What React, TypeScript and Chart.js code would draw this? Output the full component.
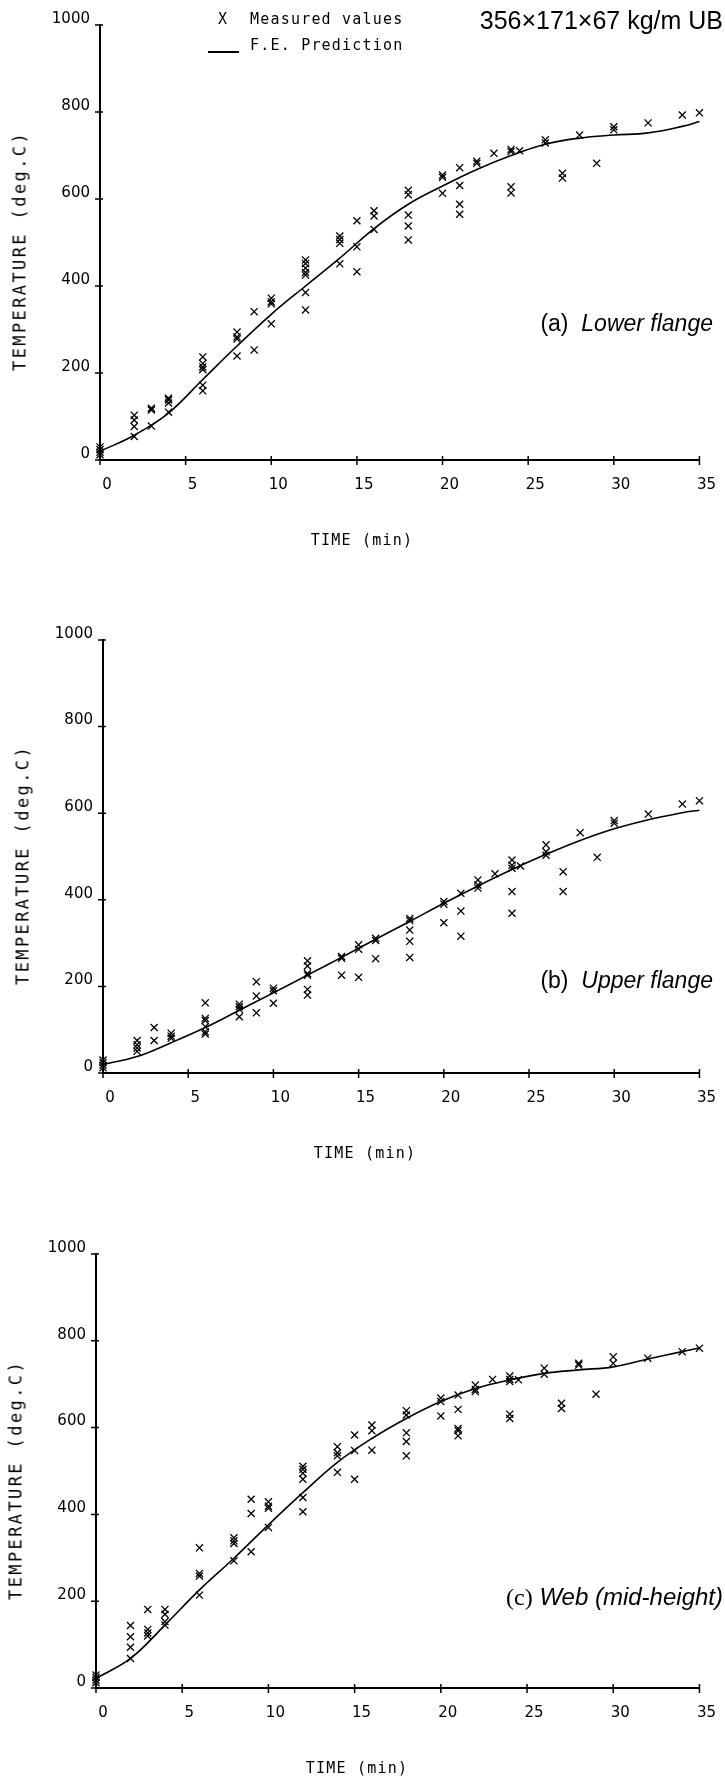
import React, { useEffect, useRef } from "react";
import { Chart, registerables } from "chart.js";

Chart.register(...registerables);

// ---------- data ----------
const X_TICKS = [0, 5, 10, 15, 20, 25, 30, 35];
const Y_TICKS = [0, 200, 400, 600, 800, 1000];

// F.E. prediction curves (time in min, temperature in deg C)
const FE_TIME = [0, 2, 4, 6, 8, 10, 12, 14, 16, 18, 20, 22, 24, 26, 28, 30, 32, 34, 35];
const FE_LOWER = [20, 57, 108, 185, 262, 335, 400, 464, 532, 588, 630, 668, 700, 726, 740, 747, 752, 767, 778];
const FE_UPPER = [20, 38, 70, 105, 145, 185, 226, 267, 309, 350, 392, 432, 470, 505, 537, 564, 585, 601, 607];
const FE_WEB = [22, 68, 145, 226, 299, 376, 450, 520, 575, 621, 660, 690, 710, 725, 733, 740, 758, 775, 784];

// Measured values [time, temperature]
const MEAS_LOWER: [number, number][] = [
  [0, 12], [0, 18], [0, 24], [0, 30],
  [2, 103], [2, 92], [2, 77], [2, 54],
  [3, 119], [3, 115], [3, 78],
  [4, 142], [4, 138], [4, 131], [4, 110],
  [6, 237], [6, 222], [6, 214], [6, 208], [6, 172], [6, 159],
  [8, 294], [8, 283], [8, 278], [8, 239],
  [9, 341], [9, 253],
  [10, 372], [10, 364], [10, 359], [10, 313],
  [12, 460], [12, 452], [12, 441], [12, 431], [12, 425], [12, 385], [12, 345],
  [14, 515], [14, 507], [14, 498], [14, 451],
  [15, 550], [15, 490], [15, 433],
  [16, 573], [16, 561], [16, 530],
  [18, 620], [18, 610], [18, 563], [18, 538], [18, 506],
  [20, 655], [20, 650], [20, 613],
  [21, 672], [21, 631], [21, 588], [21, 565],
  [22, 687], [22, 682],
  [23, 705],
  [24, 714], [24, 709], [24, 628], [24, 614],
  [24.5, 711],
  [26, 736], [26, 729],
  [27, 659], [27, 648],
  [28, 747],
  [29, 682],
  [30, 766], [30, 759],
  [32, 775],
  [34, 793],
  [35, 798],
];

const MEAS_UPPER: [number, number][] = [
  [0, 12], [0, 18], [0, 24], [0, 30],
  [2, 75], [2, 65], [2, 58], [2, 50],
  [3, 105], [3, 75],
  [4, 92], [4, 85], [4, 80],
  [6, 162], [6, 126], [6, 121], [6, 107], [6, 95], [6, 90],
  [8, 159], [8, 153], [8, 147], [8, 130],
  [9, 211], [9, 178], [9, 139],
  [10, 196], [10, 190], [10, 161],
  [12, 259], [12, 247], [12, 230], [12, 226], [12, 193], [12, 180],
  [14, 269], [14, 265], [14, 226],
  [15, 296], [15, 286], [15, 221],
  [16, 311], [16, 306], [16, 264],
  [18, 357], [18, 352], [18, 330], [18, 304], [18, 267],
  [20, 396], [20, 390], [20, 347],
  [21, 415], [21, 374], [21, 316],
  [22, 446], [22, 434], [22, 427],
  [23, 460],
  [24, 492], [24, 480], [24, 473], [24, 419], [24, 369],
  [24.5, 478],
  [26, 527], [26, 511], [26, 503],
  [27, 465], [27, 419],
  [28, 555],
  [29, 498],
  [30, 583], [30, 577],
  [32, 598],
  [34, 621],
  [35, 629],
];

const MEAS_WEB: [number, number][] = [
  [0, 12], [0, 18], [0, 24], [0, 30],
  [2, 144], [2, 118], [2, 94], [2, 68],
  [3, 181], [3, 135], [3, 127], [3, 120],
  [4, 181], [4, 170], [4, 153], [4, 145],
  [6, 323], [6, 264], [6, 258], [6, 214],
  [8, 346], [8, 339], [8, 333], [8, 293],
  [9, 435], [9, 402], [9, 314],
  [10, 429], [10, 419], [10, 414], [10, 370],
  [12, 511], [12, 504], [12, 495], [12, 481], [12, 439], [12, 406],
  [14, 556], [14, 542], [14, 535], [14, 497],
  [15, 583], [15, 547], [15, 481],
  [16, 606], [16, 593], [16, 548],
  [18, 639], [18, 629], [18, 588], [18, 568], [18, 535],
  [20, 668], [20, 660], [20, 627],
  [21, 675], [21, 642], [21, 598], [21, 593], [21, 581],
  [22, 698], [22, 688], [22, 683],
  [23, 711],
  [24, 719], [24, 711], [24, 706], [24, 631], [24, 621],
  [24.5, 710],
  [26, 737], [26, 723],
  [27, 656], [27, 644],
  [28, 748], [28, 744],
  [29, 677],
  [30, 763], [30, 748],
  [32, 760],
  [34, 775],
  [35, 783],
];

// ---------- chart helpers ----------
const PLOT_FONT = "'DejaVu Sans Mono', monospace";
const NUM_FONT = "'DejaVu Sans', sans-serif";

const crossTicks = {
  id: "crossTicks",
  afterDraw(chart: any) {
    const ctx = chart.ctx;
    const xs = chart.scales.x;
    const ys = chart.scales.y;
    const x0 = xs.getPixelForValue(0);
    const y0 = ys.getPixelForValue(0);
    ctx.save();
    ctx.strokeStyle = "#000";
    ctx.lineWidth = 1.5;
    ctx.beginPath();
    for (const v of X_TICKS) {
      const px = xs.getPixelForValue(v);
      ctx.moveTo(px, y0 - 4);
      ctx.lineTo(px, y0 + 5);
    }
    for (const v of Y_TICKS) {
      const py = ys.getPixelForValue(v);
      ctx.moveTo(x0 - 5, py);
      ctx.lineTo(x0 + 3, py);
    }
    ctx.moveTo(x0 - 3, y0);
    ctx.lineTo(x0, y0);
    ctx.stroke();
    ctx.restore();
  },
};

interface PanelProps {
  top: number;
  height: number;
  area: { left: number; right: number; top: number; bottom: number };
  fe: number[];
  meas: [number, number][];
}

function Panel({ top, height, area, fe, meas }: PanelProps) {
  const ref = useRef<HTMLCanvasElement | null>(null);
  useEffect(() => {
    if (!ref.current) return;
    const W = 725;
    const yW = 80;
    const xH = 60;
    const chart = new Chart(ref.current, {
      type: "scatter",
      data: {
        datasets: [
          {
            label: "F.E. Prediction",
            data: FE_TIME.map((t, i) => ({ x: t, y: fe[i] })),
            showLine: true,
            borderColor: "#000",
            borderWidth: 1.6,
            pointRadius: 0,
            tension: 0.4,
            clip: false,
          } as any,
          {
            label: "Measured values",
            data: meas.map(([t, v]) => ({ x: t, y: v })),
            showLine: false,
            pointStyle: "crossRot",
            pointRadius: 5,
            pointBorderWidth: 1.3,
            borderColor: "#000",
            backgroundColor: "#000",
            clip: false,
          } as any,
        ],
      },
      options: {
        animation: false,
        responsive: false,
        devicePixelRatio: 1,
        events: [],
        layout: {
          autoPadding: false,
          padding: {
            left: area.left - yW,
            right: W - area.right,
            top: area.top,
            bottom: height - area.bottom - xH,
          },
        },
        plugins: { legend: { display: false }, tooltip: { enabled: false } },
        scales: {
          x: {
            type: "linear",
            min: 0,
            max: 35,
            afterFit: (s: any) => {
              s.height = xH;
            },
            afterBuildTicks: (s: any) => {
              s.ticks = X_TICKS.map((v) => ({ value: v }));
            },
            grid: { display: true, drawOnChartArea: false, drawTicks: false },
            border: { display: true, color: "#000", width: 2 },
            ticks: {
              color: "#000",
              font: { family: NUM_FONT, size: 15 },
              padding: 16,
              labelOffset: 7,
              maxRotation: 0,
              callback: (v: any) => String(v),
            },
          },
          y: {
            type: "linear",
            min: 0,
            max: 1000,
            afterFit: (s: any) => {
              s.width = yW;
            },
            afterBuildTicks: (s: any) => {
              s.ticks = Y_TICKS.map((v) => ({ value: v }));
            },
            grid: { display: true, drawOnChartArea: false, drawTicks: false },
            border: { display: true, color: "#000", width: 2 },
            ticks: {
              color: "#000",
              font: { family: NUM_FONT, size: 15 },
              padding: 10,
              labelOffset: -6,
              callback: (v: any) => String(v),
            },
          },
        },
      },
      plugins: [crossTicks],
    } as any);
    return () => chart.destroy();
  }, []);
  return (
    <canvas
      ref={ref}
      width={725}
      height={height}
      style={{ position: "absolute", left: 0, top, width: 725, height }}
    />
  );
}

function Txt({
  x,
  y,
  children,
  style,
  anchor = "left",
  rotate = false,
}: {
  x: number;
  y: number;
  children: React.ReactNode;
  style?: React.CSSProperties;
  anchor?: "left" | "center" | "right";
  rotate?: boolean;
}) {
  const tx = anchor === "left" ? "0" : anchor === "center" ? "-50%" : "-100%";
  return (
    <div
      style={{
        position: "absolute",
        left: x,
        top: y,
        whiteSpace: "nowrap",
        lineHeight: 1,
        color: "#000",
        transform: rotate
          ? "translate(-50%, -50%) rotate(-90deg)"
          : `translate(${tx}, -50%)`,
        ...style,
      }}
    >
      {children}
    </div>
  );
}

const plot: React.CSSProperties = {
  fontFamily: PLOT_FONT,
  fontSize: 15,
  letterSpacing: "1.2px",
};
const plotY: React.CSSProperties = {
  fontFamily: PLOT_FONT,
  fontSize: 17,
  letterSpacing: "2.4px",
};
const helv: React.CSSProperties = {
  fontFamily: "'Liberation Sans', Arial, sans-serif",
  fontSize: 23,
};

export default function App() {
  return (
    <div
      style={{
        position: "absolute",
        left: 0,
        top: 0,
        width: 725,
        height: 1779,
        background: "#fff",
        overflow: "hidden",
      }}
    >
      <Panel top={0} height={600} area={{ left: 100, right: 705, top: 25, bottom: 460 }} fe={FE_LOWER} meas={MEAS_LOWER} />
      <Panel top={600} height={600} area={{ left: 103, right: 708, top: 40, bottom: 473 }} fe={FE_UPPER} meas={MEAS_UPPER} />
      <Panel top={1200} height={579} area={{ left: 96, right: 701, top: 54, bottom: 488 }} fe={FE_WEB} meas={MEAS_WEB} />

      {/* legend & header */}
      <Txt x={223} y={19} anchor="center" style={plot}>X</Txt>
      <Txt x={250} y={19} style={plot}>Measured values</Txt>
      <div style={{ position: "absolute", left: 208, top: 51, width: 31, height: 1.5, background: "#000" }} />
      <Txt x={250} y={45} style={plot}>F.E. Prediction</Txt>
      <Txt x={723} y={20} anchor="right" style={{ ...helv, fontSize: 25 }}>
        356×171×67 kg/m UB
      </Txt>

      {/* panel labels */}
      <Txt x={713} y={323} anchor="right" style={helv}>
        (a)&nbsp; <i>Lower flange</i>
      </Txt>
      <Txt x={713} y={980} anchor="right" style={helv}>
        (b)&nbsp; <i>Upper flange</i>
      </Txt>
      <Txt x={723} y={1597} anchor="right" style={{ ...helv, fontSize: 24 }}>
        <span style={{ fontFamily: "'Liberation Serif', serif" }}>(c)</span> <i>Web (mid-height)</i>
      </Txt>

      {/* axis titles */}
      <Txt x={20} y={251} rotate style={plotY}>TEMPERATURE (deg.C)</Txt>
      <Txt x={23} y={865} rotate style={plotY}>TEMPERATURE (deg.C)</Txt>
      <Txt x={16} y={1480} rotate style={plotY}>TEMPERATURE (deg.C)</Txt>

      <Txt x={362} y={540} anchor="center" style={plot}>TIME (min)</Txt>
      <Txt x={365} y={1153} anchor="center" style={plot}>TIME (min)</Txt>
      <Txt x={357} y={1768} anchor="center" style={plot}>TIME (min)</Txt>
    </div>
  );
}
